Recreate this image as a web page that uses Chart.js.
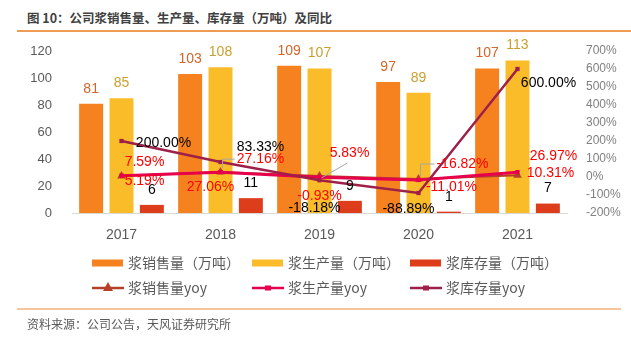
<!DOCTYPE html>
<html>
<head>
<meta charset="utf-8">
<script src="https://cdn.jsdelivr.net/npm/chart.js@4.4.1/dist/chart.umd.min.js"></script>
<style>
  html, body { margin: 0; padding: 0; background: #fff; }
  #wrap { position: relative; width: 631px; height: 340px; overflow: hidden; }
  #chart { position: absolute; left: 0; top: 0; }
  .title {
    position: absolute; left: 27px; top: 8px;
    font: bold 12.5px "Noto Sans CJK SC", sans-serif; color: #404040; white-space: nowrap;
  }
  .rule { position: absolute; left: 17px; }
  .rule.top { top: 30px; right: 0; height: 1.5px; background: #EE9B55; }
  .rule.bottom { top: 308px; right: 10px; height: 2px; background: #F7C59D; }
  .source {
    position: absolute; left: 27px; top: 315px;
    font: 12px "Noto Sans CJK SC", sans-serif; color: #595959; white-space: nowrap;
  }
</style>
</head>
<body>
<div id="wrap">
  <div class="title">图 10：公司浆销售量、生产量、库存量（万吨）及同比</div>
  <div class="rule top"></div>
  <canvas id="chart" width="631" height="340"></canvas>
  <div class="rule bottom"></div>
  <div class="source">资料来源：公司公告，天风证券研究所</div>
</div>
<script>
const years = ['2017', '2018', '2019', '2020', '2021'];
const salesVolume = [81, 103, 109, 97, 107];
const outputVolume = [85, 108, 107, 89, 113];
const stockVolume = [6, 11, 9, 1, 7];
const salesYoy = [5.19, 27.16, 5.83, -11.01, 10.31];
const outputYoy = [7.59, 27.06, -0.93, -16.82, 26.97];
const stockYoy = [200.00, 83.33, -18.18, -88.89, 600.00];

const latin = '"Liberation Sans", Arial, sans-serif';
const cjk = '"Noto Sans CJK SC", sans-serif';

// where each yoy tag sits relative to its point, plus optional leader lines
const salesTagShift = [[23, 5], [40, -13], [30, -23], [33, 8], [33, -2]];
const outputTagShift = [[23, -13], [-10, 15], [0, 19], [44, -16], [36, -16]];
const stockTagShift = [[42, 2], [40, -15], [-5, 28], [-10, 16], [31, 14]];

const pct = (v) => v.toFixed(2) + '%';

const valueTags = {
  id: 'valueTags',
  afterDatasetsDraw(chart) {
    const ctx = chart.ctx;
    ctx.save();
    ctx.font = '14px ' + latin;
    ctx.textAlign = 'center';
    ctx.textBaseline = 'middle';
    chart.data.datasets.forEach((ds, i) => {
      const meta = chart.getDatasetMeta(i);
      meta.data.forEach((el, j) => {
        const v = ds.data[j];
        let x = el.x, y = el.y - 15;
        if (ds.tagShift) {
          x = el.x + ds.tagShift[j][0];
          y = el.y + ds.tagShift[j][1];
        }
        const text = ds.type === 'line' ? pct(v) : String(v);
        const lead = ds.leaders && ds.leaders[j];
        if (lead) {
          const w = ctx.measureText(text).width;
          ctx.strokeStyle = '#A6A6A6';
          ctx.lineWidth = 1;
          ctx.beginPath();
          if (lead === 'elbow') {
            ctx.moveTo(el.x + 2, el.y - 4);
            ctx.lineTo(el.x + 2, y);
            ctx.lineTo(x - w / 2 - 2, y);
          } else {
            ctx.moveTo(el.x + 2, el.y + 2);
            ctx.lineTo(x - 2, y + 10);
          }
          ctx.stroke();
        }
        ctx.fillStyle = ds.tagColor;
        ctx.fillText(text, x, y);
      });
    });
    ctx.restore();
  }
};

// two-row legend laid out in fixed columns under the axis
const gridLegend = {
  id: 'gridLegend',
  afterDraw(chart) {
    const ctx = chart.ctx;
    const cols = [92, 252, 410];
    const rows = [263, 288];
    ctx.save();
    ctx.textBaseline = 'middle';
    ctx.textAlign = 'left';
    chart.data.datasets.forEach((ds, i) => {
      const x = cols[i % 3];
      const y = rows[Math.floor(i / 3)];
      if (ds.type === 'bar') {
        ctx.fillStyle = ds.backgroundColor;
        ctx.fillRect(x, y - 3.5, 31, 7);
      } else {
        ctx.strokeStyle = ds.borderColor;
        ctx.lineWidth = 2.5;
        ctx.beginPath();
        ctx.moveTo(x, y);
        ctx.lineTo(x + 32, y);
        ctx.stroke();
        ctx.fillStyle = ds.pointBackgroundColor;
        ctx.beginPath();
        if (ds.pointStyle === 'triangle') {
          ctx.moveTo(x + 16, y - 6);
          ctx.lineTo(x + 21, y + 3);
          ctx.lineTo(x + 11, y + 3);
        } else {
          ctx.rect(x + 13, y - 2.5, 6, 5);
        }
        ctx.fill();
      }
      ctx.fillStyle = '#595959';
      ctx.font = '14px ' + cjk;
      ctx.fillText(ds.label, x + 36, y);
    });
    ctx.restore();
  }
};

new Chart(document.querySelector('#chart'), {
  data: {
    labels: years,
    datasets: [
      {
        type: 'bar', label: '浆销售量（万吨）', data: salesVolume, yAxisID: 'y',
        backgroundColor: '#F5821F', tagColor: '#D4652A', order: 5
      },
      {
        type: 'bar', label: '浆生产量（万吨）', data: outputVolume, yAxisID: 'y',
        backgroundColor: '#FBBC2A', tagColor: '#C9A030', order: 5
      },
      {
        type: 'bar', label: '浆库存量（万吨）', data: stockVolume, yAxisID: 'y',
        backgroundColor: '#DE3D1C', tagColor: '#000000', order: 5
      },
      {
        type: 'line', label: '浆销售量yoy', data: salesYoy, yAxisID: 'y1',
        borderColor: '#B5402A', borderWidth: 2, pointStyle: 'triangle', pointRadius: 5,
        pointBackgroundColor: '#B5402A', pointBorderWidth: 0, tension: 0,
        tagColor: '#FF0000', tagShift: salesTagShift, leaders: { 1: 'elbow', 2: 'straight' }, order: 2
      },
      {
        type: 'line', label: '浆生产量yoy', data: outputYoy, yAxisID: 'y1',
        borderColor: '#E6004C', borderWidth: 3, pointStyle: 'rect', pointRadius: 3,
        pointBackgroundColor: '#E6004C', pointBorderWidth: 0, tension: 0,
        tagColor: '#FF0000', tagShift: outputTagShift, leaders: { 3: 'elbow' }, order: 1
      },
      {
        type: 'line', label: '浆库存量yoy', data: stockYoy, yAxisID: 'y1',
        borderColor: '#9E1F48', borderWidth: 2.5, pointStyle: 'rect', pointRadius: 3,
        pointBackgroundColor: '#9E1F48', pointBorderWidth: 0, tension: 0,
        tagColor: '#000000', tagShift: stockTagShift, order: 0
      }
    ]
  },
  options: {
    responsive: false,
    animation: false,
    layout: { padding: { top: 51, bottom: 97, left: 0, right: 0 } },
    datasets: { bar: { barPercentage: 0.79, categoryPercentage: 0.92 } },
    plugins: { legend: { display: false }, tooltip: { enabled: false } },
    scales: {
      x: {
        grid: { display: false },
        border: { color: '#D9D9D9' },
        ticks: { color: '#595959', font: { family: latin, size: 14 }, padding: 6 },
        afterFit(scale) { scale.height = 30; }
      },
      y: {
        position: 'left', min: 0, max: 120,
        grid: { display: false },
        border: { display: false },
        ticks: { stepSize: 20, color: '#595959', font: { family: latin, size: 13 }, padding: 12 },
        afterFit(scale) { scale.width = 72; }
      },
      y1: {
        position: 'right', min: -200, max: 700,
        grid: { display: false },
        border: { display: false },
        ticks: {
          stepSize: 100, color: '#808080', font: { family: latin, size: 12 }, padding: 11,
          callback: (v) => v + '%'
        },
        afterFit(scale) { scale.width = 64; }
      }
    }
  },
  plugins: [valueTags, gridLegend]
});
</script>
</body>
</html>
